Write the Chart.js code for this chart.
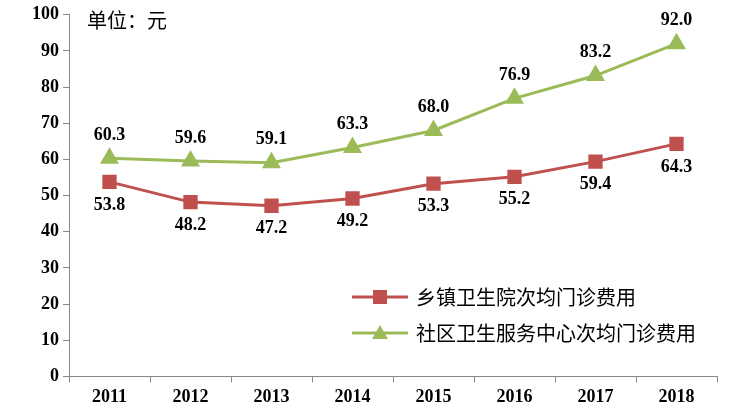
<!DOCTYPE html>
<html>
<head>
<meta charset="utf-8">
<script src="https://cdn.jsdelivr.net/npm/chart.js@4"></script>
<style>
  html, body { margin: 0; padding: 0; background: #fff; }
  #wrap { width: 751px; height: 414px; }
</style>
</head>
<body>
<div id="wrap"><canvas id="c"></canvas></div>
<script>
'use strict';

// ─── Data ─────────────────────────────────────────────────────────────────────
const YEARS = ['2011','2012','2013','2014','2015','2016','2017','2018'];
const TOWNSHIP = [53.8, 48.2, 47.2, 49.2, 53.3, 55.2, 59.4, 64.3];
const COMMUNITY = [60.3, 59.6, 59.1, 63.3, 68.0, 76.9, 83.2, 92.0];
const NAME_TOWNSHIP = '乡镇卫生院次均门诊费用';
const NAME_COMMUNITY = '社区卫生服务中心次均门诊费用';
const UNIT_TEXT = '单位：元';

const RED = '#C0504D';
const GREEN = '#9BBB59';
const NUM_FONT = 'bold 18px "Liberation Serif", serif';
const CJK_FONT = '20px "Noto Sans CJK SC", sans-serif';

// ─── Labels + legend plugin ──────────────────────────────────────────────────
const annotate = {
  id: 'annotate',
  afterDatasetsDraw(chart) {
    const ctx = chart.ctx;
    const area = chart.chartArea;
    ctx.save();
    ctx.font = NUM_FONT;
    ctx.fillStyle = '#000';
    ctx.textAlign = 'center';
    chart.data.datasets.forEach((ds, di) => {
      const meta = chart.getDatasetMeta(di);
      meta.data.forEach((pt, i) => {
        const above = di === 1;
        ctx.textBaseline = above ? 'bottom' : 'top';
        ctx.fillText(ds.data[i].toFixed(1), pt.x, above ? pt.y - 14 : pt.y + 14);
      });
    });

    // unit text
    ctx.font = CJK_FONT;
    ctx.textAlign = 'left';
    ctx.textBaseline = 'middle';
    ctx.fillText(UNIT_TEXT, area.left + 18, 20);

    // legend
    const items = [
      { name: NAME_TOWNSHIP, color: RED, style: 'rect', y: 297 },
      { name: NAME_COMMUNITY, color: GREEN, style: 'triangle', y: 333 },
    ];
    items.forEach(it => {
      ctx.strokeStyle = it.color;
      ctx.lineWidth = 3;
      ctx.beginPath();
      ctx.moveTo(352, it.y);
      ctx.lineTo(408, it.y);
      ctx.stroke();
      ctx.fillStyle = it.color;
      ctx.beginPath();
      if (it.style === 'rect') {
        ctx.rect(373, it.y - 7, 14, 14);
      } else {
        ctx.moveTo(380, it.y - 8);
        ctx.lineTo(388, it.y + 6);
        ctx.lineTo(372, it.y + 6);
        ctx.closePath();
      }
      ctx.fill();
      ctx.fillStyle = '#000';
      ctx.fillText(it.name, 416, it.y);
    });
    ctx.restore();
  }
};

// ─── Chart ────────────────────────────────────────────────────────────────────
new Chart(document.getElementById('c'), {
  type: 'line',
  data: {
    labels: YEARS,
    datasets: [
      {
        label: NAME_TOWNSHIP,
        data: TOWNSHIP,
        borderColor: RED,
        backgroundColor: RED,
        borderWidth: 3,
        pointStyle: 'rect',
        pointRadius: 8,
        tension: 0,
      },
      {
        label: NAME_COMMUNITY,
        data: COMMUNITY,
        borderColor: GREEN,
        backgroundColor: GREEN,
        borderWidth: 3,
        pointStyle: 'triangle',
        pointRadius: 8,
        tension: 0,
      }
    ]
  },
  options: {
    responsive: true,
    maintainAspectRatio: false,
    animation: false,
    layout: { padding: { left: 28, right: 34, top: 4, bottom: 2 } },
    plugins: { legend: { display: false }, tooltip: { enabled: false } },
    scales: {
      x: {
        offset: true,
        grid: { display: true, drawOnChartArea: false, offset: true, color: '#888', tickLength: 6 },
        border: { color: '#888' },
        ticks: { color: '#000', font: { family: 'Liberation Serif', weight: 'bold', size: 18 }, padding: 4 },
      },
      y: {
        min: 0, max: 100,
        grid: { display: true, drawOnChartArea: false, color: '#888', tickLength: 6 },
        border: { color: '#888' },
        ticks: { stepSize: 10, color: '#000', font: { family: 'Liberation Serif', weight: 'bold', size: 18 }, padding: 4 },
      }
    }
  },
  plugins: [annotate]
});
</script>
</body>
</html>
